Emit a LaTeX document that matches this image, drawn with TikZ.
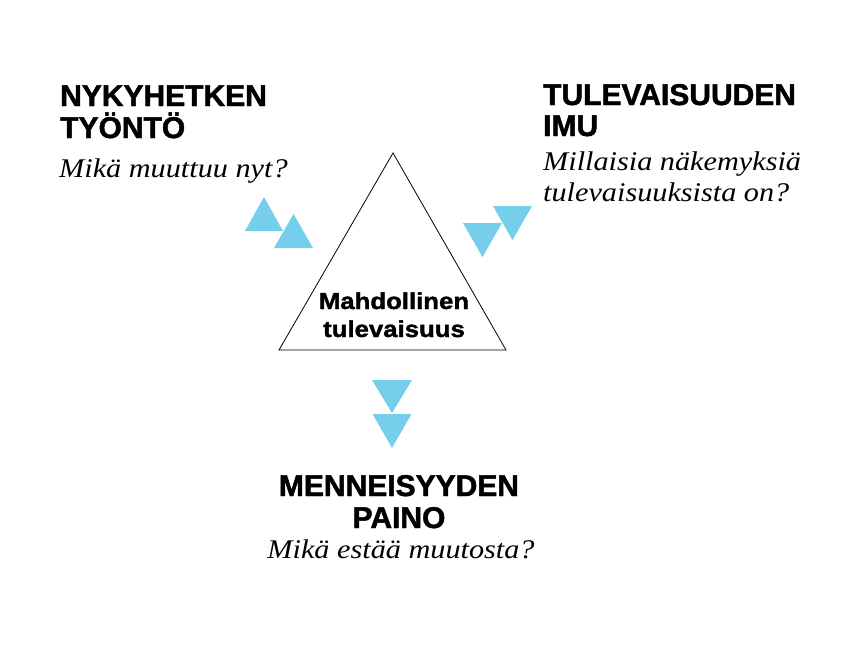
\documentclass[tikz,border=0pt]{standalone}
\usepackage{fontspec}
\setmainfont{Liberation Sans}
\newfontfamily\headfont{Liberation Sans Bold}[FakeBold=1.6]
\newfontfamily\midfont{Liberation Sans Bold}[FakeStretch=1.12,FakeBold=1.6]
\newfontfamily\qfont{Liberation Serif Italic}[FakeStretch=1.12]
\definecolor{tri}{RGB}{117,206,235}
\begin{document}
\begin{tikzpicture}[x=1pt,y=-1pt,
  head/.style={inner sep=0pt,font=\headfont\fontsize{30}{33}\selectfont},
  quest/.style={inner sep=0pt,font=\qfont\fontsize{27}{31}\selectfont},
  mid/.style={inner sep=0pt,font=\midfont\fontsize{23}{28}\selectfont},
  bluetri/.style={fill=tri}]
\useasboundingbox[fill=white] (0,0) rectangle (851,669);
% main triangle
\draw[line width=0.8pt,line join=miter] (393,153) -- (279,350) -- (506,350) -- cycle;
\node[mid,anchor=base] (m1) at (394,309) {Mahdollinen};
\node[mid,anchor=base] (m2) at (394,337) {tulevaisuus};
% blue triangles
\fill[bluetri] (245,231) -- (283,231) -- (264,197) -- cycle;
\fill[bluetri] (274,248) -- (313,248) -- (293.5,214) -- cycle;
\fill[bluetri] (463,223) -- (502,223) -- (482.5,257) -- cycle;
\fill[bluetri] (493,206) -- (532,206) -- (512.5,240) -- cycle;
\fill[bluetri] (372,380) -- (412,380) -- (392,413) -- cycle;
\fill[bluetri] (372.5,414) -- (411.5,414) -- (392,448) -- cycle;
% left block
\node[head,anchor=base west] (l1) at (60,106) {NYKYHETKEN};
\node[head,anchor=base west] (l2) at (60,138) {TYÖNTÖ};
\node[quest,anchor=base west] (l3) at (59,177) {Mikä muuttuu nyt?};
% right block
\node[head,anchor=base west] (r1) at (543,105) {TULEVAISUUDEN};
\node[head,anchor=base west] (r2) at (543,136) {IMU};
\node[quest,anchor=base west] (r3) at (543,170) {Millaisia näkemyksiä};
\node[quest,anchor=base west] (r4) at (543,201) {tulevaisuuksista on?};
% bottom block
\node[head,anchor=base] (b1) at (399,496) {MENNEISYYDEN};
\node[head,anchor=base] (b2) at (399,528) {PAINO};
\node[quest,anchor=base] (b3) at (401,558) {Mikä estää muutosta?};
\end{tikzpicture}
\end{document}
